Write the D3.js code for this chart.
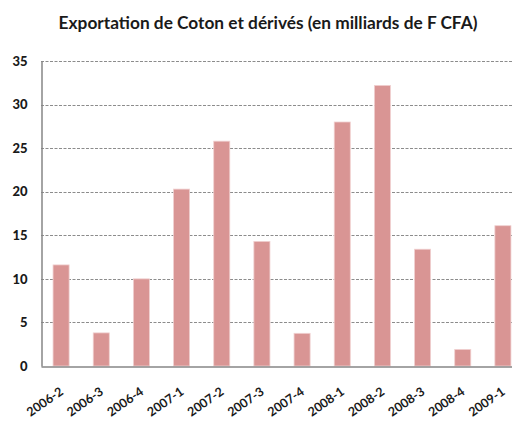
<!DOCTYPE html>
<html>
<head>
<meta charset="utf-8">
<script src="https://cdn.jsdelivr.net/npm/d3@7"></script>
<style>
  body { margin: 0; background: #fff; }
  text { font-family: Lato, "Open Sans", sans-serif; }
</style>
</head>
<body>
<div id="chart"></div>
<script>
const width = 512;
const height = 421;

const title = "Exportation de Coton et dérivés (en milliards de F CFA)";
const periods = ["2006-2", "2006-3", "2006-4", "2007-1", "2007-2", "2007-3",
    "2007-4", "2008-1", "2008-2", "2008-3", "2008-4", "2009-1"];
const exports = [11.6, 3.8, 10.0, 20.3, 25.8, 14.3, 3.75, 28.0, 32.2, 13.4, 1.9, 16.1];
const yTicks = [0, 5, 10, 15, 20, 25, 30, 35];

const margin = { left: 41, top: 61, bottom: 55 };
const plotRight = 523;

const svg = d3.select("#chart")
    .append("svg")
    .attr("width", width)
    .attr("height", height);

const x = d3.scaleBand()
    .domain(periods)
    .range([margin.left, plotRight])
    .paddingInner(0.6)
    .paddingOuter(0.3);

const y = d3.scaleLinear()
    .domain([0, 35])
    .range([height - margin.bottom, margin.top]);

svg.append("text")
    .attr("x", 268)
    .attr("y", 29)
    .attr("text-anchor", "middle")
    .style("font-size", "17.3px")
    .style("font-weight", "bold")
    .style("fill", "#1a1a1a")
    .text(title);

// gridlines
svg.append("g")
    .selectAll("line")
    .data(yTicks.filter(d => d > 0))
    .enter().append("line")
    .attr("x1", margin.left)
    .attr("x2", width)
    .attr("y1", d => Math.round(y(d)) + 0.5)
    .attr("y2", d => Math.round(y(d)) + 0.5)
    .attr("stroke", "#8c8c8c")
    .attr("stroke-dasharray", "3,1.5");

// bars
svg.append("g")
    .selectAll("rect")
    .data(exports)
    .enter().append("rect")
    .attr("x", (d, i) => x(periods[i]))
    .attr("y", d => y(d))
    .attr("width", x.bandwidth())
    .attr("height", d => y(0) - y(d))
    .attr("fill", "#d99594")
    .attr("stroke", "#f0d0d0")
    .attr("stroke-width", 0.8);

// y axis
const yAxis = d3.axisLeft(y).tickValues(yTicks).tickSize(0).tickPadding(14);
const gy = svg.append("g")
    .attr("transform", "translate(" + (margin.left + 0.5) + ",0)")
    .call(yAxis);
gy.select(".domain").attr("stroke", "#868686").attr("stroke-width", 1.5);
gy.selectAll("text")
    .style("font-size", "13px")
    .style("font-weight", "900")
    .style("fill", "#1a1a1a")
    .style("font-family", "Lato, sans-serif");

// x axis
const xAxis = d3.axisBottom(x).tickSize(0).tickPadding(0);
const gx = svg.append("g")
    .attr("transform", "translate(0," + (y(0) + 0.5) + ")")
    .call(xAxis);
gx.select(".domain").attr("stroke", "#868686").attr("stroke-width", 1.5);
gx.selectAll("text")
    .attr("text-anchor", "end")
    .attr("dy", "0")
    .attr("y", 0)
    .attr("transform", "translate(3,27) rotate(-35)")
    .style("font-size", "12.5px")
    .style("font-weight", "bold")
    .style("fill", "#1a1a1a")
    .style("font-family", "Lato, sans-serif");
</script>
</body>
</html>
